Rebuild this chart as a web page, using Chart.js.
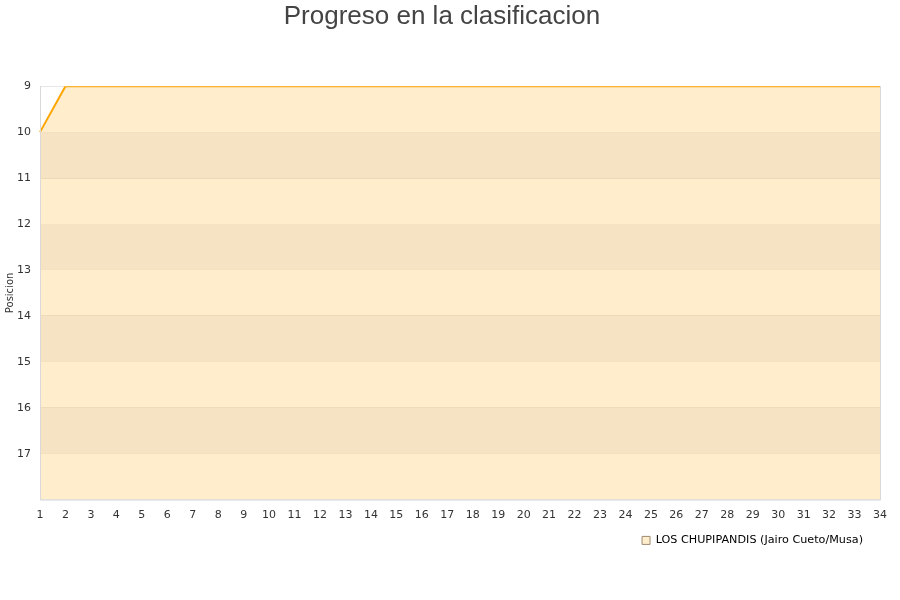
<!DOCTYPE html>
<html>
<head>
<meta charset="utf-8">
<title>Progreso en la clasificacion</title>
<script src="https://cdn.jsdelivr.net/npm/chart.js@4/dist/chart.umd.min.js"></script>
<style>
  html, body { margin: 0; padding: 0; background: #fff; }
  #wrap { width: 900px; height: 600px; }
</style>
</head>
<body>
<div id="wrap"><canvas id="chart"></canvas></div>
<script>
// Jornadas (eje x)
const jornadas = ['1', '2', '3', '4', '5', '6', '7', '8', '9', '10', '11', '12',
  '13', '14', '15', '16', '17', '18', '19', '20', '21', '22', '23', '24',
  '25', '26', '27', '28', '29', '30', '31', '32', '33', '34'];

// Posicion del equipo en cada jornada
const posiciones = [10, 9, 9, 9, 9, 9, 9, 9, 9, 9, 9, 9,
  9, 9, 9, 9, 9, 9, 9, 9, 9, 9, 9, 9,
  9, 9, 9, 9, 9, 9, 9, 9, 9, 9];

// Marcas del eje y
const posTicks = [9, 10, 11, 12, 13, 14, 15, 16, 17];

const equipo = 'LOS CHUPIPANDIS (Jairo Cueto/Musa)';

// Bandas alternas y marco del area de dibujo
const bandsPlugin = {
  id: 'bands',
  afterLayout(chart) {
    // la leyenda queda un poco a la izquierda del borde del grafico
    if (chart.legend) {
      chart.legend.left -= 10;
      chart.legend.right -= 10;
    }
  },
  beforeDatasetsDraw(chart) {
    const { ctx, chartArea, scales } = chart;
    const y = scales.y;
    ctx.save();
    ctx.fillStyle = '#f4f3f4';
    for (let v = 10; v < 18; v += 2) {
      const top = y.getPixelForValue(v);
      const bottom = y.getPixelForValue(v + 1);
      ctx.fillRect(chartArea.left, top, chartArea.right - chartArea.left, bottom - top);
    }
    ctx.restore();
  },
  afterDatasetsDraw(chart) {
    const { ctx, chartArea } = chart;
    ctx.save();
    ctx.strokeStyle = '#d9d9d9';
    ctx.lineWidth = 1;
    ctx.beginPath();
    ctx.moveTo(chartArea.left + 0.5, chartArea.top);
    ctx.lineTo(chartArea.left + 0.5, chartArea.bottom + 0.5);
    ctx.lineTo(chartArea.right + 0.5, chartArea.bottom + 0.5);
    ctx.lineTo(chartArea.right + 0.5, chartArea.top);
    ctx.stroke();
    ctx.restore();
  }
};

const ctx = document.getElementById('chart').getContext('2d');

new Chart(ctx, {
  type: 'line',
  data: {
    labels: jornadas,
    datasets: [{
      label: equipo,
      data: posiciones,
      borderColor: '#ffa500',
      backgroundColor: 'rgba(255, 165, 0, 0.2)',
      borderWidth: 2,
      pointRadius: 0,
      tension: 0,
      fill: 'start'
    }]
  },
  options: {
    responsive: true,
    maintainAspectRatio: false,
    animation: false,
    layout: {
      padding: { left: 4, right: 20, top: 0, bottom: 44 }
    },
    plugins: {
      title: {
        display: true,
        text: 'Progreso en la clasificacion',
        color: '#444',
        font: { family: 'Liberation Sans', size: 26, weight: 'normal' },
        padding: { top: 1, bottom: 54 }
      },
      legend: {
        position: 'bottom',
        align: 'end',
        labels: {
          boxWidth: 8,
          boxHeight: 8,
          padding: 7,
          color: '#000',
          font: { family: 'DejaVu Sans', size: 11.2 },
          generateLabels(chart) {
            return chart.data.datasets.map((ds, i) => ({
              text: ds.label,
              fillStyle: '#ffedcc',
              strokeStyle: '#9c8a70',
              lineWidth: 1,
              hidden: false,
              datasetIndex: i,
              fontColor: '#000'
            }));
          }
        }
      },
      tooltip: { enabled: false }
    },
    scales: {
      x: {
        type: 'category',
        offset: false,
        grid: { display: false },
        border: { display: false },
        afterFit(scale) {
          scale.height += 5;
        },
        ticks: {
          color: '#333',
          font: { family: 'DejaVu Sans', size: 11 },
          maxRotation: 0,
          autoSkip: false,
          padding: 1
        }
      },
      y: {
        reverse: true,
        min: 9,
        max: 18,
        afterBuildTicks(scale) {
          scale.ticks = posTicks.concat([18]).map(v => ({ value: v }));
        },
        afterFit(scale) {
          scale.width = 36;
        },
        grid: { color: '#e6e6e6', drawTicks: false },
        border: { display: false },
        title: {
          display: true,
          text: 'Posicion',
          color: '#333',
          font: { family: 'DejaVu Sans', size: 10 },
          padding: 0
        },
        ticks: {
          color: '#333',
          font: { family: 'DejaVu Sans', size: 11 },
          padding: 9,
          callback(value) {
            return posTicks.includes(value) ? String(value) : '';
          }
        }
      }
    }
  },
  plugins: [bandsPlugin]
});
</script>
</body>
</html>
